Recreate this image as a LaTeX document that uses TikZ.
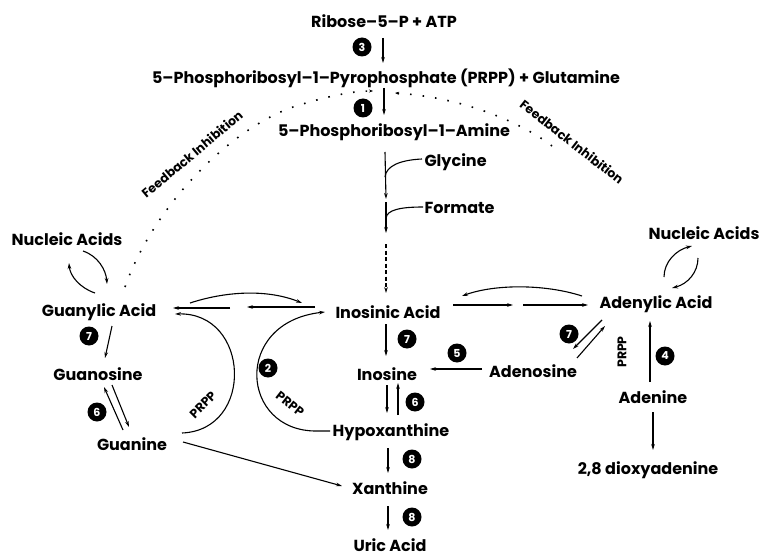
\documentclass[tikz,border=0pt]{standalone}
\usepackage{fontspec}
\setmainfont{Poppins}
\usepackage{tikz}
\usetikzlibrary{calc, arrows.meta}
\usetikzlibrary{positioning}

\begin{document}
\begin{tikzpicture}[x=1pt, y=-1pt,
    lbl/.style={font=\bfseries\fontsize{16}{18}\selectfont, inner sep=0pt},
    small/.style={font=\bfseries\fontsize{12.5}{14}\selectfont, inner sep=0pt},
    numdot/.style={circle, fill=black, text=white, minimum size=19pt, inner sep=0pt,
        font=\bfseries\fontsize{11}{12}\selectfont},
    every path/.style={-{Stealth[length=6pt,width=3.6pt]}, line width=1.1pt}]
            \useasboundingbox (0,0) rectangle (765,556);
            \node[lbl] (ribose) at (384,21) {Ribose--5--P + ATP};
            \node[lbl] (prpp) at (386,78) {5--Phosphoribosyl--1--Pyrophosphate (PRPP) + Glutamine};
            \node[lbl] (amine) at (394,132) {5--Phosphoribosyl--1--Amine};
            \node[lbl, anchor=west] (glycine) at (424,162) {Glycine};
            \node[lbl, anchor=west] (formate) at (424,208) {Formate};
            \node[lbl] (nucl) at (67,239) {Nucleic Acids};
            \node[lbl] (nucr) at (704,233) {Nucleic Acids};
            \node[lbl] (guanylic) at (99,312) {Guanylic Acid};
            \node[lbl] (inosinic) at (388,312) {Inosinic Acid};
            \node[lbl] (adenylic) at (656,304) {Adenylic Acid};
            \node[lbl] (guanosine) at (98,374) {Guanosine};
            \node[lbl] (inosine) at (387,374) {Inosine};
            \node[lbl] (adenosine) at (533,371) {Adenosine};
            \node[lbl] (guanine) at (132,444) {Guanine};
            \node[lbl] (hypox) at (391,432) {Hypoxanthine};
            \node[lbl] (adenine) at (653,397) {Adenine};
            \node[lbl] (xanthine) at (390,488) {Xanthine};
            \node[lbl] (uric) at (390,545) {Uric Acid};
            \node[lbl] (dioxy) at (648,470) {2,8 dioxyadenine};
            \node[small, rotate=40] (fbl) at (192,154) {Feedback Inhibition};
            \node[small, rotate=-38] (fbr) at (572,142) {Feedback Inhibition};
            \node[small, rotate=45] (prppg) at (203,405) {PRPP};
            \node[small, rotate=-38] (prpph) at (290,404) {PRPP};
            \node[small, rotate=90] (prppa) at (622,352) {PRPP};
            \node[numdot] (n3) at (362,47) {3};
            \node[numdot] (n1) at (363,108) {1};
            \node[numdot] (n7g) at (89,336) {7};
            \node[numdot] (n6g) at (97,412) {6};
            \node[numdot] (n2) at (268,368) {2};
            \node[numdot] (n7i) at (407,339) {7};
            \node[numdot] (n5) at (457,353) {5};
            \node[numdot] (n7a) at (569,334) {7};
            \node[numdot] (n4) at (665,356) {4};
            \node[numdot] (n6i) at (415,402) {6};
            \node[numdot] (n8a) at (412,459) {8};
            \node[numdot] (n8b) at (412,517) {8};
            \draw ($(ribose)+(-1,17)$) -- ($(prpp)+(-3,-15)$);
            \draw ($(prpp)+(-2,10)$) -- ($(amine)+(-10,-17)$);
            \draw ($(amine)+(-9,20)$) -- ($(formate.west)+(-38,-9)$);
            \draw ($(formate.west)+(-38,-6)$) -- ($(formate.west)+(-38,25)$);
            \draw ($(inosinic)+(-2,-68)$) -- ($(inosinic)+(-2,-19)$) [dash pattern=on 4pt off 2.5pt];
            \begin{scope}[every path/.style={line width=1.1pt}]
                \draw ($(glycine.west)+(-2,-3)$) .. controls (400,160) and (386,166) .. ($(amine)+(-9,45)$);
                \draw ($(formate.west)+(-1,-1)$) .. controls (400,207) and (387,210) .. ($(formate.west)+(-38,10)$);
            \end{scope}
            \draw ($(guanylic)+(91,-9)$) .. controls (230,290) and (270,290) .. ($(inosinic)+(-86,-9)$);
            \draw ($(inosinic)+(-73,-5)$) -- ($(inosinic)+(-141,-5)$);
            \draw ($(guanylic)+(131,-4)$) -- ($(guanylic)+(74,-4)$);
            \draw ($(adenylic)+(-74,-8)$) .. controls (545,284) and (495,284) .. ($(inosinic)+(74,-16)$);
            \draw ($(inosinic)+(65,-7)$) -- ($(inosinic)+(125,-7)$);
            \draw ($(adenylic)+(-133,1)$) -- ($(adenylic)+(-68,1)$);
            \draw ($(guanine)+(50,-11)$) .. controls (255,430) and (250,312) .. ($(guanylic)+(76,2)$);
            \draw ($(hypox)+(-61,-1)$) -- ($(hypox)+(-74,-1)$) .. controls (240,432) and (232,322) .. ($(inosinic)+(-63,0)$);
            \draw ($(guanine)+(51,-2)$) -- ($(xanthine)+(-48,-2)$);
            \draw ($(guanylic)+(13,14)$) -- ($(guanosine)+(7,-16)$);
            \draw ($(guanine)+(-9,-14)$) -- ($(guanosine)+(6,13)$);
            \draw ($(guanosine)+(14,11)$) -- ($(guanine)+(-3,-17)$);
            \draw ($(nucl)+(16,12)$) .. controls (98,256) and (106,270) .. ($(guanylic)+(8,-28)$);
            \draw ($(guanylic)+(-4,-19)$) .. controls (80,288) and (70,276) .. ($(nucl)+(2,24)$);
            \draw ($(adenylic)+(8,-27)$) .. controls (664,262) and (676,250) .. ($(nucr)+(-12,13)$);
            \draw ($(nucr)+(-6,25)$) .. controls (698,272) and (688,284) .. ($(adenylic)+(16,-16)$);
            \draw ($(inosinic)+(-2,12)$) -- ($(inosine)+(-1,-18)$);
            \draw ($(adenosine)+(-51,-2)$) -- ($(inosine)+(43,-5)$);
            \draw ($(adenylic)+(-54,16)$) -- ($(adenosine)+(40,-22)$);
            \draw ($(adenosine)+(44,-13)$) -- ($(adenylic)+(-51,22)$);
            \draw ($(adenine)+(-3,-15)$) -- ($(adenylic)+(-6,17)$);
            \draw ($(adenine)+(0,15)$) -- ($(dioxy)+(5,-20)$);
            \draw ($(inosine)+(0,11)$) -- ($(hypox)+(-4,-19)$);
            \draw ($(hypox)+(7,-17)$) -- ($(inosine)+(11,9)$);
            \draw ($(hypox)+(-3,16)$) -- ($(xanthine)+(-2,-15)$);
            \draw ($(xanthine)+(-2,18)$) -- ($(uric)+(-2,-15)$);
            \begin{scope}[every path/.append style={-{Stealth[length=4pt,width=3pt]}, dash pattern=on 1.6pt off 11pt, line width=1.6pt}]
                \draw ($(guanylic)+(26,-25)$) .. controls (150,215) and (220,135) .. (290,108) .. controls (330,95) and (355,91) .. ($(prpp)+(-13,13)$);
                \draw ($(amine)+(158,14)$) .. controls (528,127) and (470,98) .. ($(prpp)+(9,15)$);
            \end{scope}
        \end{tikzpicture}
\end{document}
